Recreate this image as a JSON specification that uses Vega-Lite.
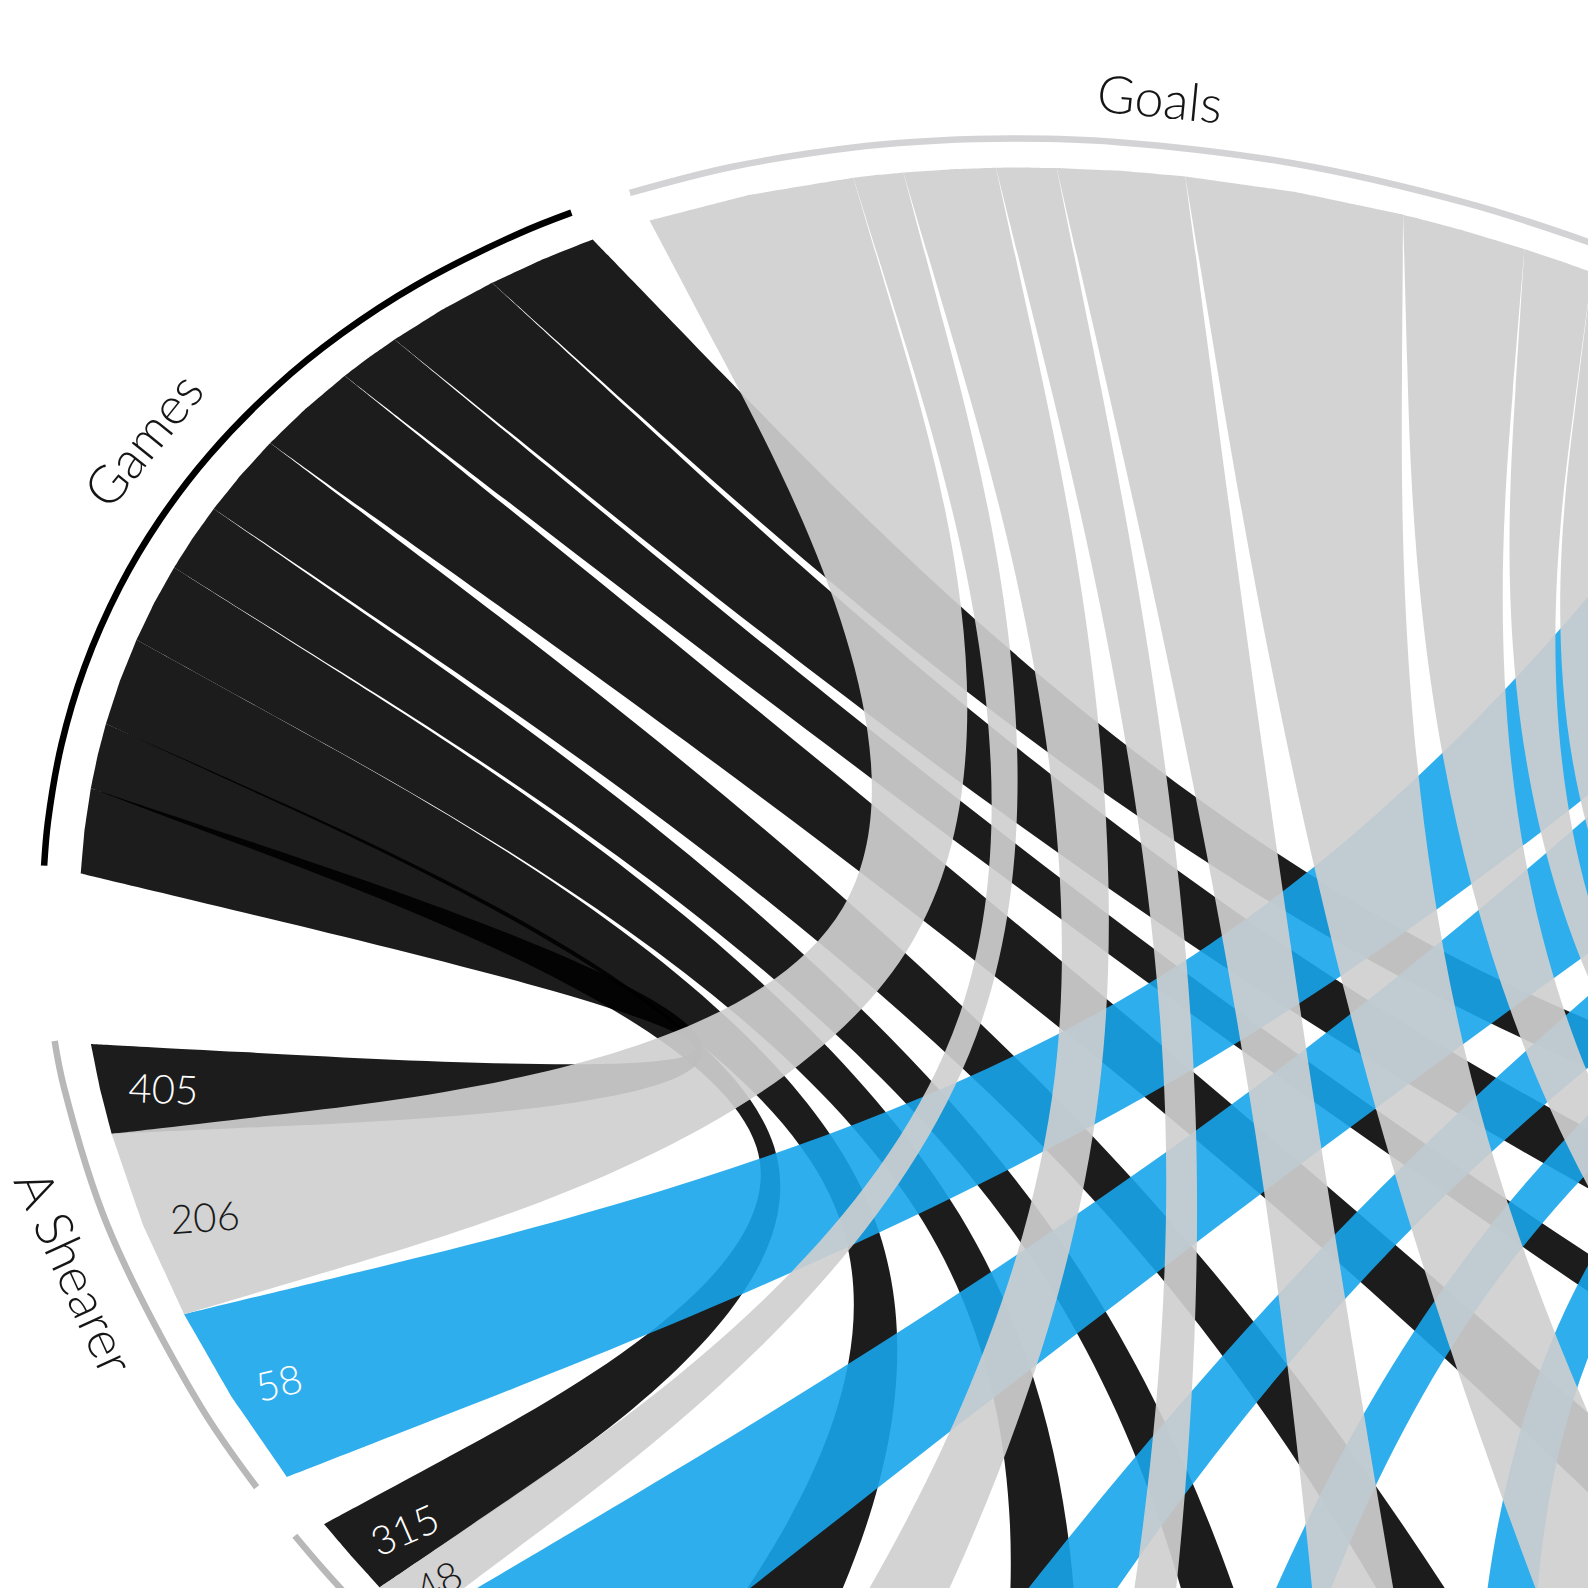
{
  "$schema": "https://vega.github.io/schema/vega-lite/v6.json",
  "width": 1588,
  "height": 1588,
  "autosize": {"type": "none"},
  "padding": 0,
  "background": "#ffffff",
  "config": {"view": {"stroke": null}},
  "datasets": {
    "flows": [
      {"player": "A Shearer", "category": "Games", "value": 405},
      {"player": "A Shearer", "category": "Goals", "value": 206},
      {"player": "A Shearer", "category": "Assists", "value": 58},
      {"player": "N Solano", "category": "Games", "value": 315},
      {"player": "N Solano", "category": "Goals", "value": 48},
      {"player": "N Solano", "category": "Assists", "value": 50},
      {"player": "R Lee", "category": "Games", "value": 428},
      {"player": "R Lee", "category": "Goals", "value": 87},
      {"player": "R Lee", "category": "Assists", "value": 28},
      {"player": "G Speed", "category": "Games", "value": 390},
      {"player": "G Speed", "category": "Goals", "value": 56},
      {"player": "G Speed", "category": "Assists", "value": 22},
      {"player": "P Beardsley", "category": "Games", "value": 336},
      {"player": "P Beardsley", "category": "Goals", "value": 117},
      {"player": "P Beardsley", "category": "Assists", "value": 24},
      {"player": "J Milburn", "category": "Games", "value": 405},
      {"player": "J Milburn", "category": "Goals", "value": 196},
      {"player": "J Milburn", "category": "Assists", "value": 36},
      {"player": "B Mitchell", "category": "Games", "value": 458},
      {"player": "B Mitchell", "category": "Goals", "value": 110},
      {"player": "B Mitchell", "category": "Assists", "value": 30},
      {"player": "K Dyer", "category": "Games", "value": 275},
      {"player": "K Dyer", "category": "Goals", "value": 62},
      {"player": "K Dyer", "category": "Assists", "value": 18},
      {"player": "S Ameobi", "category": "Games", "value": 489},
      {"player": "S Ameobi", "category": "Goals", "value": 66},
      {"player": "S Ameobi", "category": "Assists", "value": 22},
      {"player": "F Hudspeth", "category": "Games", "value": 458},
      {"player": "F Hudspeth", "category": "Goals", "value": 52},
      {"player": "F Hudspeth", "category": "Assists", "value": 14}
    ]
  },
  "data": {"name": "flows"},
  "transform": [
    {"window": [{"op": "row_number", "as": "pi"}], "groupby": ["category"]},
    {"window": [{"op": "row_number", "as": "ci"}], "groupby": ["player"]},
    {"joinaggregate": [{"op": "sum", "field": "value", "as": "catTotal"}, {"op": "max", "field": "pi", "as": "maxPi"}], "groupby": ["category"]},
    {"joinaggregate": [{"op": "max", "field": "ci", "as": "maxCi"}], "groupby": ["player"]},
    {"calculate": "datum.value / datum.catTotal * 52", "as": "span"},
    {"window": [{"op": "sum", "field": "span", "as": "cumCat"}], "groupby": ["category"], "sort": [{"field": "pi", "order": "ascending"}], "frame": [null, 0]},
    {"window": [{"op": "sum", "field": "span", "as": "cumAll"}], "sort": [{"field": "pi", "order": "ascending"}, {"field": "ci", "order": "ascending"}], "frame": [null, 0]},
    {"calculate": "-103.85 + (datum.ci - 1) * 55.2 + datum.cumCat - datum.span", "as": "s0"},
    {"calculate": "datum.s0 + datum.span", "as": "s1"},
    {"calculate": "-114.1 - (datum.cumAll - datum.span) - (datum.pi - 1) * 3", "as": "t1"},
    {"calculate": "datum.t1 - datum.span", "as": "t0"}
  ],
  "encoding": {
    "x": {"field": "X", "type": "quantitative", "scale": {"domain": [-1.3055, 0.2825], "nice": false, "zero": false}, "axis": null},
    "y": {"field": "Y", "type": "quantitative", "scale": {"domain": [-1.1379, 0.4501], "nice": false, "zero": false, "reverse": true}, "axis": null}
  },
  "layer": [
    {
      "transform": [
        {"calculate": "0.971*(1.2118*sin(datum.s0*PI/180)+0.3543*cos(datum.s0*PI/180))", "as": "xs0"},
        {"calculate": "0.971*(1.2118*sin(datum.s1*PI/180)+0.3543*cos(datum.s1*PI/180))", "as": "xs1"},
        {"calculate": "0.971*(1.2118*sin(datum.t0*PI/180)+0.3543*cos(datum.t0*PI/180))", "as": "xt0"},
        {"calculate": "0.971*(1.2118*sin(datum.t1*PI/180)+0.3543*cos(datum.t1*PI/180))", "as": "xt1"},
        {"calculate": "0.971*(0.4945*sin(datum.s0*PI/180)-0.8684*cos(datum.s0*PI/180))", "as": "ys0"},
        {"calculate": "0.971*(0.4945*sin(datum.s1*PI/180)-0.8684*cos(datum.s1*PI/180))", "as": "ys1"},
        {"calculate": "0.971*(0.4945*sin(datum.t0*PI/180)-0.8684*cos(datum.t0*PI/180))", "as": "yt0"},
        {"calculate": "0.971*(0.4945*sin(datum.t1*PI/180)-0.8684*cos(datum.t1*PI/180))", "as": "yt1"},
        {"calculate": "datum.player + '|' + datum.category", "as": "rid"},
        {"calculate": "['s0','s0','s0','sm','sm','sm','s1','s1','s1','c1','t0','t0','t0','tm','tm','tm','t1','t1','t1','c2','s0','s0','s0']", "as": "role"},
        {"calculate": "[0,1,2,3,4,5,6,7,8,9,10,11,12,13,14,15,16,17,18,19,20,21,22]", "as": "vi"},
        {"flatten": ["role", "vi"]},
        {"calculate": "datum.role === 's0' ? datum.s0 : datum.role === 'sm' ? (datum.s0 + datum.s1) / 2 : datum.role === 's1' ? datum.s1 : datum.role === 't0' ? datum.t0 : datum.role === 'tm' ? (datum.t0 + datum.t1) / 2 : datum.t1", "as": "th"},
        {"calculate": "datum.role === 'c1' ? 0.125 * (datum.xs1 + datum.xt0) : datum.role === 'c2' ? 0.125 * (datum.xt1 + datum.xs0) : 0.971*(1.2118*sin(datum.th*PI/180)+0.3543*cos(datum.th*PI/180))", "as": "X"},
        {"calculate": "datum.role === 'c1' ? 0.125 * (datum.ys1 + datum.yt0) : datum.role === 'c2' ? 0.125 * (datum.yt1 + datum.ys0) : 0.971*(0.4945*sin(datum.th*PI/180)-0.8684*cos(datum.th*PI/180))", "as": "Y"}
      ],
      "layer": [
        {
          "transform": [{"filter": "datum.category === 'Games'"}],
          "mark": {"type": "line", "filled": true, "fill": "#000000", "fillOpacity": 0.89, "strokeWidth": 0, "interpolate": "basis", "clip": true},
          "encoding": {"detail": {"field": "rid"}, "order": {"field": "vi", "type": "quantitative"}}
        },
        {
          "transform": [{"filter": "datum.category === 'Assists'"}],
          "mark": {"type": "line", "filled": true, "fill": "#17a5eb", "fillOpacity": 0.9, "strokeWidth": 0, "interpolate": "basis", "clip": true},
          "encoding": {"detail": {"field": "rid"}, "order": {"field": "vi", "type": "quantitative"}}
        },
        {
          "transform": [{"filter": "datum.category === 'Goals'"}],
          "mark": {"type": "line", "filled": true, "fill": "#cfcfcf", "fillOpacity": 0.916, "strokeWidth": 0, "interpolate": "basis", "clip": true},
          "encoding": {"detail": {"field": "rid"}, "order": {"field": "vi", "type": "quantitative"}}
        }
      ]
    },
    {
      "transform": [
        {"calculate": "['s0','sm','s1','t0','tm','t1']", "as": "role"},
        {"flatten": ["role"]},
        {"filter": "datum.role === 'sm' || datum.role === 'tm' || (datum.role === 's0' && datum.pi === 1) || (datum.role === 's1' && datum.pi === datum.maxPi) || (datum.role === 't1' && datum.ci === 1) || (datum.role === 't0' && datum.ci === datum.maxCi)"},
        {"calculate": "datum.role === 's0' ? datum.s0 : datum.role === 'sm' ? (datum.s0 + datum.s1) / 2 : datum.role === 's1' ? datum.s1 : datum.role === 't0' ? datum.t0 : datum.role === 'tm' ? (datum.t0 + datum.t1) / 2 : datum.t1", "as": "th"},
        {"calculate": "indexof(datum.role, 's') === 0 ? datum.category : 'player'", "as": "lkind"},
        {"calculate": "indexof(datum.role, 's') === 0 ? datum.category : datum.player", "as": "gkey"},
        {"calculate": "1.2118*sin(datum.th*PI/180)+0.3543*cos(datum.th*PI/180)", "as": "X"},
        {"calculate": "0.4945*sin(datum.th*PI/180)-0.8684*cos(datum.th*PI/180)", "as": "Y"}
      ],
      "mark": {"type": "line", "interpolate": "catmull-rom", "strokeWidth": 6.5, "strokeCap": "butt", "clip": true},
      "encoding": {
        "detail": {"field": "gkey"},
        "order": {"field": "th", "type": "quantitative"},
        "color": {"field": "lkind", "type": "nominal", "scale": {"domain": ["Games", "Goals", "Assists", "player"], "range": ["#000000", "#d3d2d4", "#2eaeed", "#b8b8b8"]}, "legend": null}
      }
    },
    {
      "transform": [
        {"aggregate": [{"op": "min", "field": "s0", "as": "a0"}, {"op": "max", "field": "s1", "as": "a1"}], "groupby": ["category"]},
        {"calculate": "(datum.a0 + datum.a1) / 2", "as": "th"},
        {"calculate": "1.045*(1.2118*sin(datum.th*PI/180)+0.3543*cos(datum.th*PI/180))", "as": "X"},
        {"calculate": "1.045*(0.4945*sin(datum.th*PI/180)-0.8684*cos(datum.th*PI/180))", "as": "Y"},
        {"filter": "datum.X > -1.4 && datum.X < 0.35 && datum.Y > -1.2 && datum.Y < 0.5"},
        {"calculate": "atan2(0.4945*cos(datum.th*PI/180)+0.8684*sin(datum.th*PI/180), 1.2118*cos(datum.th*PI/180)-0.3543*sin(datum.th*PI/180))*180/PI + (cos(datum.th*PI/180) < 0 ? 180 : 0)", "as": "ang0"},
        {"calculate": "((datum.ang0 % 360) + 360) % 360", "as": "ang"}
      ],
      "mark": {"type": "text", "font": "Lato", "fontSize": 52, "fontWeight": 300, "align": "center", "baseline": "middle", "color": "#151515"},
      "encoding": {
        "text": {"field": "category", "type": "nominal"},
        "angle": {"field": "ang", "type": "quantitative", "scale": null}
      }
    },
    {
      "transform": [
        {"aggregate": [{"op": "min", "field": "t0", "as": "a0"}, {"op": "max", "field": "t1", "as": "a1"}], "groupby": ["player"]},
        {"calculate": "(datum.a0 + datum.a1) / 2", "as": "th"},
        {"calculate": "1.045*(1.2118*sin(datum.th*PI/180)+0.3543*cos(datum.th*PI/180))", "as": "X"},
        {"calculate": "1.045*(0.4945*sin(datum.th*PI/180)-0.8684*cos(datum.th*PI/180))", "as": "Y"},
        {"filter": "datum.X > -1.4 && datum.X < 0.35 && datum.Y > -1.2 && datum.Y < 0.5"},
        {"calculate": "atan2(0.4945*cos(datum.th*PI/180)+0.8684*sin(datum.th*PI/180), 1.2118*cos(datum.th*PI/180)-0.3543*sin(datum.th*PI/180))*180/PI + (cos(datum.th*PI/180) < 0 ? 180 : 0)", "as": "ang0"},
        {"calculate": "((datum.ang0 % 360) + 360) % 360", "as": "ang"}
      ],
      "mark": {"type": "text", "font": "Lato", "fontSize": 52, "fontWeight": 300, "align": "center", "baseline": "middle", "color": "#151515"},
      "encoding": {
        "text": {"field": "player", "type": "nominal"},
        "angle": {"field": "ang", "type": "quantitative", "scale": null}
      }
    },
    {
      "transform": [
        {"calculate": "(datum.t0 + datum.t1) / 2", "as": "th"},
        {"calculate": "0.948*(1.2118*sin(datum.th*PI/180)+0.3543*cos(datum.th*PI/180))", "as": "X"},
        {"calculate": "0.948*(0.4945*sin(datum.th*PI/180)-0.8684*cos(datum.th*PI/180))", "as": "Y"},
        {"filter": "datum.X > -1.4 && datum.X < 0.35 && datum.Y > -1.2 && datum.Y < 0.48"},
        {"calculate": "atan2(-(0.4945*sin(datum.th*PI/180)-0.8684*cos(datum.th*PI/180)), -(1.2118*sin(datum.th*PI/180)+0.3543*cos(datum.th*PI/180)))*180/PI", "as": "ang0"},
        {"calculate": "((datum.ang0 % 360) + 360) % 360", "as": "ang"}
      ],
      "mark": {"type": "text", "font": "Lato", "fontSize": 40, "fontWeight": 300, "align": "left", "baseline": "middle"},
      "encoding": {
        "text": {"field": "value", "type": "quantitative", "format": "d"},
        "angle": {"field": "ang", "type": "quantitative", "scale": null},
        "color": {"condition": {"test": "datum.category === 'Goals'", "value": "#1a1a1a"}, "value": "#ffffff"}
      }
    }
  ]
}
